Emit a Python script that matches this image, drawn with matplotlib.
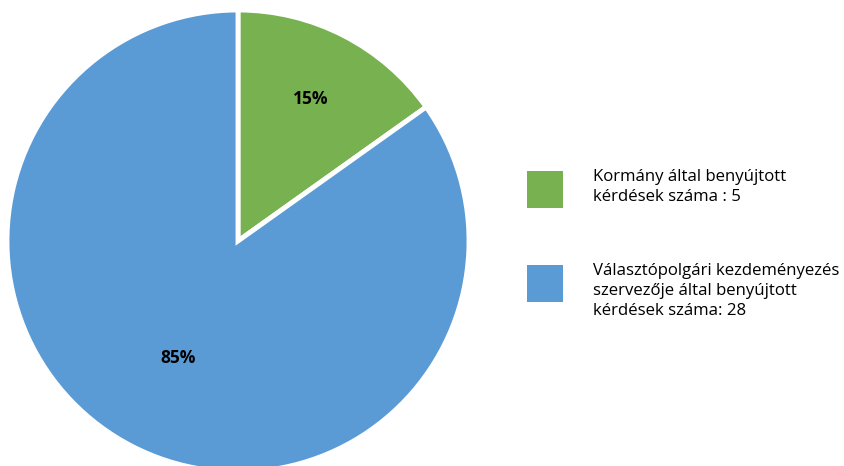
import numpy as np
import matplotlib.pyplot as plt
from matplotlib.patches import Rectangle

# data
labels = ['Kormány által benyújtott\nkérdések száma : 5',
          'Választópolgári kezdeményezés\nszervezője által benyújtott\nkérdések száma: 28']
values = [5, 28]
colors = ['#77B150', '#5B9BD5']

plt.rcParams['font.family'] = ['Open Sans', 'DejaVu Sans']

W, H = 844, 466
fig = plt.figure(figsize=(W/100, H/100), dpi=100)
ax = fig.add_axes([0, 0, 1, 1])

cx, cy, r = 238, H - 241, 231
wedges, texts, autotexts = ax.pie(values, colors=colors, startangle=90, counterclock=False,
                                  center=(cx, cy), radius=r, autopct='%1.0f%%',
                                  wedgeprops=dict(edgecolor='white', linewidth=3.5),
                                  textprops=dict(fontsize=12.5, fontweight='bold', color='black'))
# label distances differ per slice
dist = [0.69, 0.57]
for w, t, d in zip(wedges, autotexts, dist):
    ang = np.deg2rad((w.theta1 + w.theta2) / 2)
    t.set_position((cx + d*r*np.cos(ang), cy + d*r*np.sin(ang)))

# legend drawn by hand
tops = [171, 265]
for top, lab, c in zip(tops, labels, colors):
    ax.add_patch(Rectangle((527, H - top - 37), 36, 37, facecolor=c, edgecolor='none'))
    ax.text(593, H - top + 2, lab, fontsize=12.1, va='top', ha='left', linespacing=1.33)

ax.set_xlim(0, W)
ax.set_ylim(0, H)
ax.set_aspect('equal')
ax.axis('off')

fig.savefig('out.png', dpi=100)
